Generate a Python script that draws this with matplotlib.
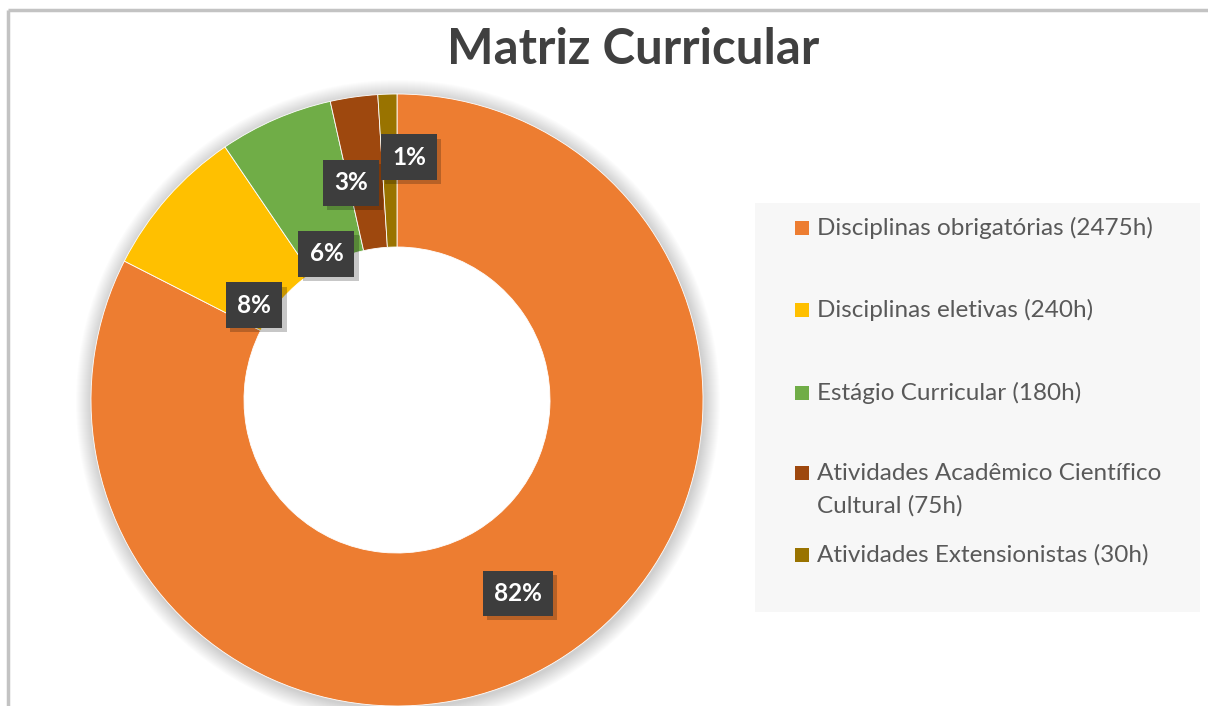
import matplotlib.pyplot as plt
import matplotlib.patheffects as pe
from matplotlib.patches import Rectangle, Wedge
import numpy as np

# dados
categorias = ["Disciplinas obrigatórias (2475h)",
              "Disciplinas eletivas (240h)",
              "Estágio Curricular (180h)",
              "Atividades Acadêmico Científico\nCultural (75h)",
              "Atividades Extensionistas (30h)"]
horas = [2475, 240, 180, 75, 30]
rotulos = ["82%", "8%", "6%", "3%", "1%"]
cores = ["#ED7D31", "#FFC000", "#70AD47", "#9E480E", "#997300"]

# ajuste dos rotulos (raio relativo, deslocamento angular em graus)
rot_raio = [0.745, 0.56, 0.53, 0.725, 0.795]
rot_desl = [0.5, 7.8, 2.4, 3.9, -4.6]

W, H = 1208, 706
fig = plt.figure(figsize=(W / 100, H / 100), dpi=100)
ax = fig.add_axes([0, 0, 1, 1])

cx, cy = 397, H - 400
R = 306
largura = 153

# sombra suave em volta da rosca
for i in range(16):
    ax.add_patch(Wedge((cx + 1, cy - 2), R + 16 - i, 0, 360, width=20,
                       color="black", alpha=0.010, lw=0, zorder=1))

wedges, _ = ax.pie(horas, colors=cores, startangle=90, counterclock=False,
                   center=(cx, cy), radius=R, frame=True,
                   wedgeprops=dict(width=largura, edgecolor="white", linewidth=0.6))
for w in wedges:
    w.set_zorder(2)
ax.set_xlim(0, W)
ax.set_ylim(0, H)
ax.set_aspect("equal")
ax.axis("off")

# rotulos de dados
for w, txt, rr, dd in zip(wedges, rotulos, rot_raio, rot_desl):
    ang = np.deg2rad((w.theta1 + w.theta2) / 2 + dd)
    x = cx + rr * R * np.cos(ang)
    y = cy + rr * R * np.sin(ang)
    t = ax.text(x, y, txt, ha="center", va="center", color="white",
                fontsize=17.5, fontweight="bold", family="Lato", zorder=5,
                bbox=dict(boxstyle="square,pad=0.46", facecolor="#3d3d3d",
                          edgecolor="none"))
    t.get_bbox_patch().set_path_effects([
        pe.SimplePatchShadow(offset=(3, -3), shadow_rgbFace="black", alpha=0.22),
        pe.Normal()])

# titulo
ax.text(633, H - 49, "Matriz Curricular", ha="center", va="center",
        fontsize=35.5, fontweight="bold", family="Lato", color="#404040")

# legenda
ax.add_patch(Rectangle((755, H - 612), 445, 409, facecolor="#F7F7F7",
                       edgecolor="none", zorder=1))
leg_y = [228, 310, 393, 473, 555]
for cat, cor, yy in zip(categorias, cores, leg_y):
    ax.add_patch(Rectangle((795, H - yy - 7), 14, 14, facecolor=cor,
                           edgecolor="none", zorder=3))
    for k, linha in enumerate(cat.split("\n")):
        ax.text(817, H - yy - k * 33, linha, ha="left", va="center",
                fontsize=17.5, family="Lato", color="#595959", zorder=3)

# borda da imagem
ax.plot([8, W], [H - 10, H - 10], color="#c3c3c3", lw=2.5, zorder=6,
        solid_capstyle="butt")
ax.plot([8, 8], [0, H - 10], color="#c3c3c3", lw=2.5, zorder=6,
        solid_capstyle="butt")

fig.savefig("out.png", dpi=100)
